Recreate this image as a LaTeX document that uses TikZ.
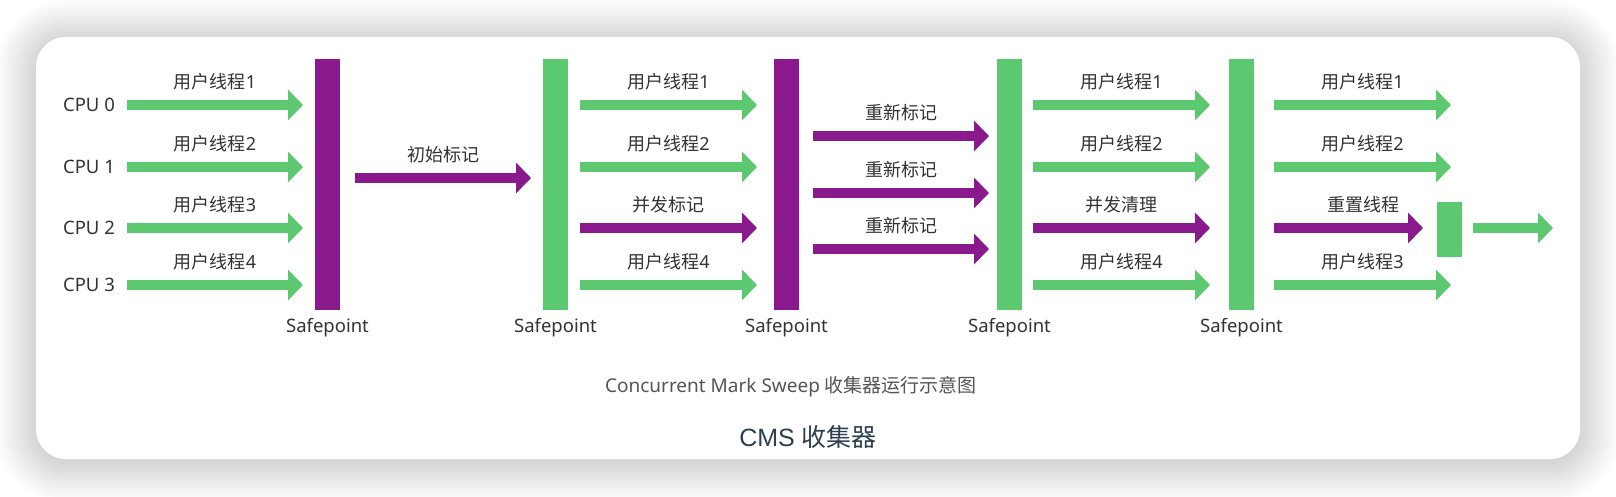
\documentclass[tikz,border=0pt]{standalone}
\usepackage{fontspec}
\setmainfont{Noto Sans}
\newfontfamily\cjk{Noto Sans CJK SC}
\newfontfamily\ttlfont{Liberation Sans}
\usetikzlibrary{arrows.meta,calc}
\definecolor{gc}{HTML}{5CC870}
\definecolor{pc}{HTML}{8B198E}
\definecolor{txt}{HTML}{333333}
\definecolor{capc}{HTML}{555555}
\definecolor{ttlc}{HTML}{2C3E50}
\begin{document}
\begin{tikzpicture}[x=1pt,y=-1pt,
  bararrow/.style={line width=10pt,-{Triangle[width=30pt,length=15pt]}},
  garrow/.style={bararrow,draw=gc},
  parrow/.style={bararrow,draw=pc},
  lbl/.style={font=\fontsize{18}{20}\selectfont,text=txt,inner sep=0pt},
  alabel/.style={lbl,midway,yshift=23pt},
  gbar/.style={fill=gc,minimum width=25pt,minimum height=251pt,inner sep=0pt},
  pbar/.style={fill=pc,minimum width=25pt,minimum height=251pt,inner sep=0pt},
  sptext/.style={lbl,font=\fontsize{18.5}{20}\selectfont}
]
\useasboundingbox (0,0) rectangle (1616,496);
\fill[white] (0,0) rectangle (1616,496);
% shadow
\foreach \d in {2,4,...,40}{
  \pgfmathsetmacro\rr{30+\d}
  \fill[black,opacity=0.008,rounded corners=\rr pt] (36-\d,40-\d) rectangle (1580+\d,462+\d);
}
\fill[white,rounded corners=30pt] (36,37) rectangle (1580,459);

% CPU labels
\node[lbl,font=\fontsize{18.5}{20}\selectfont] (cpu0) at (89,105) {CPU 0};
\node[lbl,font=\fontsize{18.5}{20}\selectfont] (cpu1) at (89,167) {CPU 1};
\node[lbl,font=\fontsize{18.5}{20}\selectfont] (cpu2) at (89,228) {CPU 2};
\node[lbl,font=\fontsize{18.5}{20}\selectfont] (cpu3) at (89,285) {CPU 3};

% bars
\node[pbar] (sp1) at (327.5,184.5) {};
\node[gbar] (sp2) at (555.5,184.5) {};
\node[pbar] (sp3) at (786.5,184.5) {};
\node[gbar] (sp4) at (1009.5,184.5) {};
\node[gbar] (sp5) at (1241.5,184.5) {};
\node[fill=gc,minimum width=25pt,minimum height=55pt,inner sep=0pt] (endbox) at (1449.5,229.5) {};

\foreach \i in {1,...,5}{
  \node[sptext] (spl\i) at ([yshift=-17pt]sp\i.south) {Safepoint};
}

% section 1
\coordinate (a1s) at (127,105); \coordinate (a1e) at (303,105);
\coordinate (a2s) at (127,167); \coordinate (a2e) at (303,167);
\coordinate (a3s) at (127,228); \coordinate (a3e) at (303,228);
\coordinate (a4s) at (127,285); \coordinate (a4e) at (303,285);
\draw[garrow] (a1s) -- (a1e) node[alabel] (l1) {{\cjk 用户线程}1};
\draw[garrow] (a2s) -- (a2e) node[alabel] (l2) {{\cjk 用户线程}2};
\draw[garrow] (a3s) -- (a3e) node[alabel] (l3) {{\cjk 用户线程}3};
\draw[garrow] (a4s) -- (a4e) node[alabel] (l4) {{\cjk 用户线程}4};

% initial mark
\coordinate (ims) at (355,178); \coordinate (ime) at (531,178);
\draw[parrow] (ims) -- (ime) node[alabel] (lim) {\cjk 初始标记};

% section 2
\coordinate (b1s) at (580,105); \coordinate (b1e) at (757,105);
\coordinate (b2s) at (580,167); \coordinate (b2e) at (757,167);
\coordinate (b3s) at (580,228); \coordinate (b3e) at (757,228);
\coordinate (b4s) at (580,285); \coordinate (b4e) at (757,285);
\draw[garrow] (b1s) -- (b1e) node[alabel] (m1) {{\cjk 用户线程}1};
\draw[garrow] (b2s) -- (b2e) node[alabel] (m2) {{\cjk 用户线程}2};
\draw[parrow] (b3s) -- (b3e) node[alabel] (m3) {\cjk 并发标记};
\draw[garrow] (b4s) -- (b4e) node[alabel] (m4) {{\cjk 用户线程}4};

% section 3 remark
\coordinate (c1s) at (813,136); \coordinate (c1e) at (989,136);
\coordinate (c2s) at (813,193); \coordinate (c2e) at (989,193);
\coordinate (c3s) at (813,249); \coordinate (c3e) at (989,249);
\draw[parrow] (c1s) -- (c1e) node[alabel] (r1) {\cjk 重新标记};
\draw[parrow] (c2s) -- (c2e) node[alabel] (r2) {\cjk 重新标记};
\draw[parrow] (c3s) -- (c3e) node[alabel] (r3) {\cjk 重新标记};

% section 4
\coordinate (d1s) at (1033,105); \coordinate (d1e) at (1210,105);
\coordinate (d2s) at (1033,167); \coordinate (d2e) at (1210,167);
\coordinate (d3s) at (1033,228); \coordinate (d3e) at (1210,228);
\coordinate (d4s) at (1033,285); \coordinate (d4e) at (1210,285);
\draw[garrow] (d1s) -- (d1e) node[alabel] (n1) {{\cjk 用户线程}1};
\draw[garrow] (d2s) -- (d2e) node[alabel] (n2) {{\cjk 用户线程}2};
\draw[parrow] (d3s) -- (d3e) node[alabel] (n3) {\cjk 并发清理};
\draw[garrow] (d4s) -- (d4e) node[alabel] (n4) {{\cjk 用户线程}4};

% section 5
\coordinate (e1s) at (1274,105); \coordinate (e1e) at (1451,105);
\coordinate (e2s) at (1274,167); \coordinate (e2e) at (1451,167);
\coordinate (e3s) at (1274,228); \coordinate (e3e) at (1423,228);
\coordinate (e4s) at (1274,285); \coordinate (e4e) at (1451,285);
\draw[garrow] (e1s) -- (e1e) node[alabel] (o1) {{\cjk 用户线程}1};
\draw[garrow] (e2s) -- (e2e) node[alabel] (o2) {{\cjk 用户线程}2};
\draw[parrow] (e3s) -- (e3e) node[alabel,xshift=15pt] (o3) {\cjk 重置线程};
\draw[garrow] (e4s) -- (e4e) node[alabel] (o4) {{\cjk 用户线程}3};

% final arrow
\coordinate (fe) at (1553,228);
\draw[garrow] ([xshift=11pt]endbox.east |- fe) -- (fe);

% captions
\node[inner sep=0pt,text=capc,font=\fontsize{19}{22}\selectfont] (cap) at (791,387) {Concurrent Mark Sweep {\cjk 收集器运行示意图}};
\node[inner sep=0pt,text=ttlc,font=\ttlfont\fontsize{25}{28}\selectfont] (ttl) at (808,437) {CMS {\cjk 收集器}};
\end{tikzpicture}
\end{document}
